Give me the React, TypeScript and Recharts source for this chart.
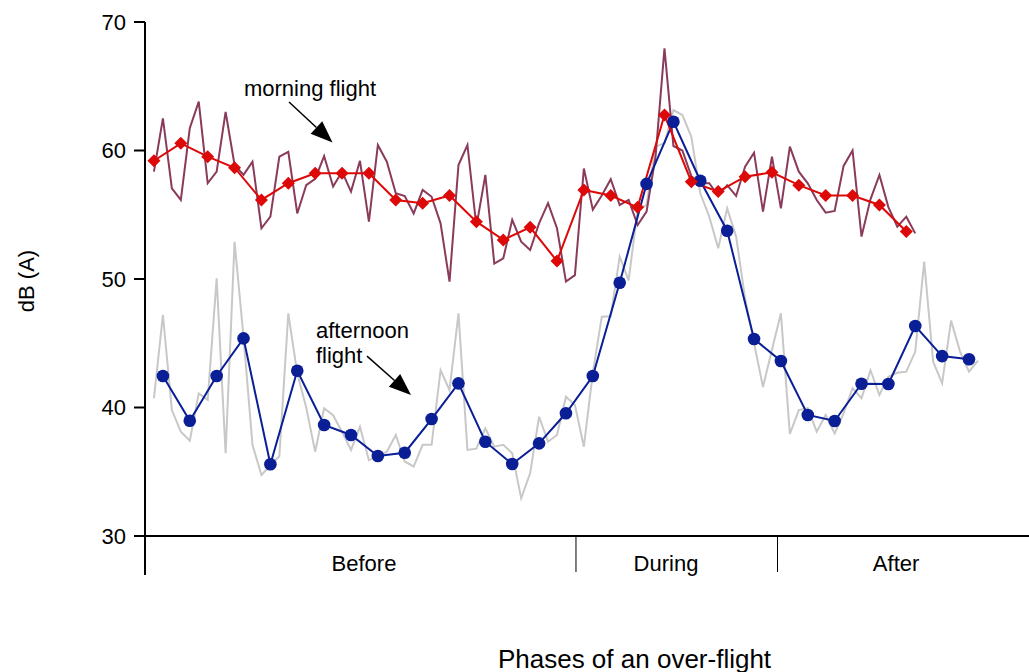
import React from "react";
import {
  LineChart,
  Line,
  XAxis,
  YAxis,
  ReferenceLine,
  ReferenceDot,
} from "recharts";

const FONT = '"Liberation Sans", Arial, Helvetica, sans-serif';

// Detailed morning flight readings (one per time step, starting at step 1)
const morningDetail = [
  58.35, 62.5, 57.06, 56.15, 61.73, 63.8, 57.45, 58.35, 63.0, 58.87,
  58.1, 59.13, 53.95, 54.85, 59.52, 59.9, 55.1, 57.3, 57.8, 59.57,
  57.2, 58.35, 56.8, 59.2, 54.46, 60.43, 59.13, 56.67, 56.46, 55.1,
  56.93, 56.4, 54.33, 49.8, 58.87, 60.43, 54.07, 58.1, 51.2, 51.6,
  54.6, 52.9, 52.26, 54.33, 55.9, 53.95, 49.8, 50.3, 58.6, 55.4,
  56.5, 57.76, 55.76, 56.15, 54.2, 55.24, 59.5, 67.95, 60.35, 60.0,
  58.0, 57.45, 57.45, 56.5, 57.3, 56.46, 58.74, 59.83, 55.24, 59.52,
  55.5, 60.3, 58.35, 57.45, 56.15, 55.16, 55.3, 58.8, 60.0, 53.3,
  56.2, 58.1, 55.6, 54.07, 54.85, 53.55,
];

// Detailed afternoon flight readings (one per time step, starting at step 1)
const afternoonDetail = [
  40.72, 47.2, 39.8, 38.12, 37.42, 41.1, 40.6, 50.05, 36.44, 52.9,
  45.5, 37.1, 34.75, 35.5, 36.2, 47.33, 42.66, 40.0, 36.56, 39.94,
  39.4, 38.1, 36.7, 38.5, 35.9, 36.2, 36.56, 37.86, 35.8, 35.4,
  37.1, 37.1, 42.9, 41.36, 47.33, 36.7, 36.8, 38.38, 36.95, 37.1,
  36.44, 32.93, 34.88, 39.28, 37.34, 37.86, 40.84, 40.2, 36.95, 42.7,
  47.07, 47.1, 51.74, 49.9, 55.4, 55.76, 60.3, 60.56, 63.15, 62.76,
  61.07, 56.67, 54.85, 52.4, 55.5, 53.3, 48.5, 45.0, 41.6, 44.5,
  47.33, 37.94, 39.8, 39.94, 38.12, 39.42, 37.99, 39.55, 41.5, 40.72,
  42.9, 40.97, 42.4, 42.7, 42.79, 44.35, 51.35, 43.56, 41.88, 46.76,
  44.35, 42.79, 43.64,
];

// Averaged morning flight (every 3rd step, from step 1)
const morningAvg = [
  59.2, 60.56, 59.52, 58.66, 56.15, 57.45, 58.22, 58.22, 58.22, 56.15,
  55.9, 56.5, 54.46, 53.04, 54.02, 51.4, 56.93, 56.5, 55.58, 62.76,
  57.57, 56.8, 57.96, 58.3, 57.3, 56.5, 56.5, 55.76, 53.7,
];

// Averaged afternoon flight (every 3rd step, from step 2)
const afternoonAvg = [
  42.45, 38.97, 42.45, 45.38, 35.58, 42.86, 38.64, 37.86, 36.23, 36.48,
  39.1, 41.88, 37.34, 35.6, 37.21, 39.55, 42.45, 49.71, 57.4, 62.24,
  57.65, 53.76, 45.33, 43.62, 39.42, 38.95, 41.85, 41.83, 46.34, 44.0,
  43.75,
];

const yTicks = [30, 40, 50, 60, 70];
const phaseNames = ["Before", "During", "After"];
const phaseLabelAt = [24.45, 58.17, 83.86];
const phaseBounds = [0, 48.12, 70.62];
const xDomainEnd = 98.7;

const rows = afternoonDetail.map((v, i) => {
  const t = i + 1;
  const mIdx = (t - 1) / 3;
  const aIdx = (t - 2) / 3;
  return {
    t,
    afternoon: v,
    morning: i < morningDetail.length ? morningDetail[i] : null,
    morningAvg:
      Number.isInteger(mIdx) && mIdx < morningAvg.length ? morningAvg[mIdx] : null,
    afternoonAvg:
      Number.isInteger(aIdx) && aIdx >= 0 && aIdx < afternoonAvg.length
        ? afternoonAvg[aIdx]
        : null,
  };
});

const xTicks = [...phaseBounds, ...phaseLabelAt].sort((a, b) => a - b);

const PhaseTick = (props: any) => {
  const { x, y, payload } = props;
  const v = payload.value;
  const bIdx = phaseBounds.indexOf(v);
  if (bIdx >= 0) {
    return (
      <line
        x1={x}
        x2={x}
        y1={y}
        y2={y + (bIdx === 0 ? 39 : 36)}
        stroke="#000"
        strokeWidth={bIdx === 0 ? 2 : 1}
      />
    );
  }
  const lIdx = phaseLabelAt.indexOf(v);
  return (
    <text
      x={x}
      y={y + 27}
      textAnchor="middle"
      dominantBaseline="central"
      fontFamily={FONT}
      fontSize={22}
      fill="#000"
    >
      {phaseNames[lIdx]}
    </text>
  );
};

const Diamond = (props: any) => {
  const { cx, cy, index, value } = props;
  if (value == null || cx == null || cy == null) return <g key={`md-${index}`} />;
  const s = 6.5;
  return (
    <polygon
      key={`md-${index}`}
      points={`${cx},${cy - s} ${cx + s},${cy} ${cx},${cy + s} ${cx - s},${cy}`}
      fill="#dd0808"
      stroke="none"
    />
  );
};

const Circle = (props: any) => {
  const { cx, cy, index, value } = props;
  if (value == null || cx == null || cy == null) return <g key={`ad-${index}`} />;
  return <circle key={`ad-${index}`} cx={cx} cy={cy} r={6.3} fill="#0a1e96" stroke="none" />;
};

const Arrow = (props: any) => {
  const { x1, y1, x2, y2 } = props;
  const dx = x2 - x1;
  const dy = y2 - y1;
  const len = Math.sqrt(dx * dx + dy * dy);
  const ux = dx / len;
  const uy = dy / len;
  const headLen = 22;
  const headHalf = 8.5;
  const bx = x2 - ux * headLen;
  const by = y2 - uy * headLen;
  const px = -uy;
  const py = ux;
  return (
    <g>
      <line x1={x1} y1={y1} x2={bx} y2={by} stroke="#000" strokeWidth={1.5} />
      <polygon
        points={`${x2},${y2} ${bx + px * headHalf},${by + py * headHalf} ${bx - px * headHalf},${by - py * headHalf}`}
        fill="#000"
      />
    </g>
  );
};

const MorningText = (props: any) => (
  <text
    x={props.cx}
    y={props.cy}
    dominantBaseline="central"
    fontFamily={FONT}
    fontSize={22}
    fill="#000"
  >
    morning flight
  </text>
);

const AfternoonText = (props: any) => (
  <text fontFamily={FONT} fontSize={22} fill="#000" dominantBaseline="central">
    <tspan x={props.cx} y={props.cy}>
      afternoon
    </tspan>
    <tspan x={props.cx} y={props.cy + 25}>
      flight
    </tspan>
  </text>
);

export default function App() {
  return (
    <div
      style={{
        position: "absolute",
        left: 0,
        top: 0,
        width: 1029,
        height: 672,
        background: "#fff",
        fontFamily: FONT,
      }}
    >
      <LineChart
        width={1029}
        height={672}
        data={rows}
        margin={{ top: 22, right: 0, bottom: 96, left: 0 }}
      >
        <XAxis
          dataKey="t"
          type="number"
          domain={[0, xDomainEnd]}
          ticks={xTicks}
          interval={0}
          tick={<PhaseTick />}
          tickLine={false}
          tickSize={0}
          tickMargin={0}
          height={40}
          axisLine={{ stroke: "#000", strokeWidth: 2 }}
        />
        <YAxis
          type="number"
          domain={[30, 70]}
          ticks={yTicks}
          interval={0}
          width={145}
          tickSize={11}
          tickMargin={8}
          tick={{ fill: "#000", fontSize: 22, fontFamily: FONT }}
          tickLine={{ stroke: "#000", strokeWidth: 2 }}
          axisLine={{ stroke: "#000", strokeWidth: 2 }}
        />
        <Line
          dataKey="afternoon"
          type="linear"
          stroke="#c8c8c8"
          strokeWidth={2}
          dot={false}
          activeDot={false}
          isAnimationActive={false}
        />
        <Line
          dataKey="morning"
          type="linear"
          stroke="#8a3a5a"
          strokeWidth={2}
          dot={false}
          activeDot={false}
          isAnimationActive={false}
        />
        <Line
          dataKey="afternoonAvg"
          type="linear"
          stroke="#0a1e96"
          strokeWidth={2}
          connectNulls
          dot={<Circle />}
          activeDot={false}
          isAnimationActive={false}
        />
        <Line
          dataKey="morningAvg"
          type="linear"
          stroke="#dd0808"
          strokeWidth={2}
          connectNulls
          dot={<Diamond />}
          activeDot={false}
          isAnimationActive={false}
        />
        <ReferenceLine
          segment={[
            { x: 16.08, y: 63.77 },
            { x: 20.94, y: 60.62 },
          ]}
          shape={<Arrow />}
        />
        <ReferenceLine
          segment={[
            { x: 24.79, y: 44.0 },
            { x: 29.7, y: 40.97 },
          ]}
          shape={<Arrow />}
        />
        <ReferenceDot x={11.05} y={64.86} r={0} shape={<MorningText />} />
        <ReferenceDot x={19.09} y={46.03} r={0} shape={<AfternoonText />} />
      </LineChart>
      <div
        style={{
          position: "absolute",
          left: 634.5,
          top: 659,
          transform: "translate(-50%, -50%)",
          whiteSpace: "nowrap",
          fontSize: 26,
          color: "#000",
        }}
      >
        Phases of an over-flight
      </div>
      <div
        style={{
          position: "absolute",
          left: 27,
          top: 281,
          transform: "translate(-50%, -50%) rotate(-90deg)",
          whiteSpace: "nowrap",
          fontSize: 22,
          color: "#000",
        }}
      >
        dB (A)
      </div>
    </div>
  );
}
